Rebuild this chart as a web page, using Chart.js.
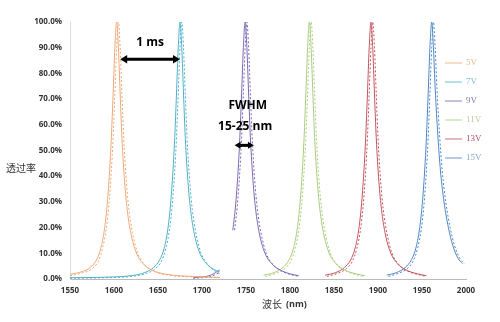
<!DOCTYPE html>
<html>
<head>
<meta charset="utf-8">
<script src="https://cdn.jsdelivr.net/npm/chart.js@4/dist/chart.umd.min.js"></script>
<style>
  html, body { margin: 0; padding: 0; background: #fff; }
  #wrap { position: relative; width: 500px; height: 322px; }
</style>
</head>
<body>
<div id="wrap"><canvas id="c" width="500" height="322"></canvas></div>
<script>
/* ───────── data (wavelength nm, transmission %) ───────── */

const voltages = ['5V', '7V', '9V', '11V', '13V', '15V'];

const v5Solid = [[1550,1.8],[1563,2.8],[1573,4.5],[1581,8],[1585,12],[1589,19],[1592,28],[1595,42],[1597,55],[1599,72],[1601,90],[1603,100],[1605,90],[1607,72],[1609,55],[1612,38],[1615,27],[1619,18],[1625,10.5],[1633,6],[1643,3.5],[1660,1.8],[1690,1],[1720,0.6]];
const v5Dot = [[1550,1.2],[1565,2.5],[1575,4],[1583,7.5],[1587,12],[1591,19],[1594,28],[1597,42],[1599,55],[1601,72],[1603,90],[1605,100],[1607,90],[1609,72],[1611,55],[1614,38],[1617,27],[1621,18],[1627,10],[1635,5.5],[1645,3],[1662,1.5],[1690,0.8],[1720,0.5]];

const v7Solid = [[1550,0.5],[1600,0.8],[1620,1.3],[1635,2.5],[1645,4.5],[1652,7.5],[1657,12],[1661,19],[1664,28],[1667,42],[1669,55],[1671,72],[1673,90],[1675,100],[1677,90],[1679,72],[1681,55],[1684,38],[1687,27],[1691,18],[1697,10.5],[1705,6],[1713,3.8],[1720,2.8]];
const v7Dot = [[1550,0.3],[1600,0.6],[1620,1],[1637,2.2],[1647,4],[1654,7],[1659,12],[1663,19],[1666,28],[1669,42],[1671,55],[1673,72],[1675,90],[1677,100],[1679,90],[1681,72],[1683,55],[1686,38],[1689,27],[1693,18],[1699,10],[1707,5.5],[1715,3],[1720,2.2]];

const v9Solid = [[1690,0.5],[1700,0.8],[1710,1.5],[1720,3.5],[1721,null],[1735,19],[1738,28],[1741,42],[1743,55],[1745,72],[1747,90],[1749,100],[1751,90],[1753,72],[1755,55],[1758,38],[1761,27],[1765,18],[1771,10.5],[1779,6],[1789,3.5],[1800,2],[1810,1.3]];
const v9Dot = [[1690,0.3],[1700,0.5],[1710,1],[1720,2.5],[1721,null],[1737,19],[1740,28],[1743,42],[1745,55],[1747,72],[1749,90],[1751,100],[1753,90],[1755,72],[1757,55],[1760,38],[1763,27],[1767,18],[1773,10],[1781,5.5],[1791,3],[1802,1.6],[1810,1]];

const v11Solid = [[1770,1.5],[1782,2.5],[1792,4.5],[1799,7.5],[1804,12],[1808,19],[1811,28],[1814,42],[1816,55],[1818,72],[1820,90],[1822,100],[1824,90],[1826,72],[1828,55],[1831,38],[1834,27],[1838,18],[1844,10.5],[1852,6],[1862,3.5],[1875,2],[1885,1.3]];
const v11Dot = [[1772,1],[1784,2.2],[1794,4],[1801,7],[1806,12],[1810,19],[1813,28],[1816,42],[1818,55],[1820,72],[1822,90],[1824,100],[1826,90],[1828,72],[1830,55],[1833,38],[1836,27],[1840,18],[1846,10],[1854,5.5],[1864,3],[1877,1.6],[1885,1]];

const v13Solid = [[1840,1.5],[1852,2.5],[1862,4.5],[1869,7.5],[1874,12],[1878,19],[1881,28],[1884,42],[1886,55],[1888,72],[1890,90],[1892,100],[1894,90],[1896,72],[1898,55],[1901,38],[1904,27],[1908,18],[1914,10.5],[1922,6],[1932,3.5],[1945,2],[1955,1.3]];
const v13Dot = [[1842,1],[1854,2.2],[1864,4],[1871,7],[1876,12],[1880,19],[1883,28],[1886,42],[1888,55],[1890,72],[1892,90],[1894,100],[1896,90],[1898,72],[1900,55],[1903,38],[1906,27],[1910,18],[1916,10],[1924,5.5],[1934,3],[1947,1.6],[1955,1]];

const v15Solid = [[1910,1.5],[1921,2.5],[1931,4.5],[1938,7.5],[1943,12],[1947,19],[1950,28],[1953,42],[1955,55],[1957,72],[1959,90],[1961,100],[1963,90],[1965,74],[1968,56],[1971,42],[1975,30],[1980,20],[1985,13],[1991,8],[1996,6]];
const v15Dot = [[1912,1],[1923,2.2],[1933,4],[1940,7],[1945,12],[1949,19],[1952,28],[1955,42],[1957,55],[1959,72],[1961,90],[1963,100],[1965,90],[1967,74],[1970,56],[1973,42],[1977,30],[1982,20],[1987,13],[1993,8],[1998,6]];

const solidSeries = [v5Solid, v7Solid, v9Solid, v11Solid, v13Solid, v15Solid];
const dotSeries = [v5Dot, v7Dot, v9Dot, v11Dot, v13Dot, v15Dot];

const xTicks = [1550, 1600, 1650, 1700, 1750, 1800, 1850, 1900, 1950, 2000];
const yTicks = [0, 10, 20, 30, 40, 50, 60, 70, 80, 90, 100];

const COLORS = ['#f0a878', '#4fb0c8', '#7a68b4', '#a9cc7c', '#c4545e', '#4f86c6'];
const LEGEND_TEXT = ['#e8b898', '#7fbcd0', '#8478b0', '#b8cc98', '#a85060', '#86a6c6'];

/* ───────── datasets ───────── */

const toPts = (arr) => arr.map(([x, y]) => ({ x, y }));

const datasets = [];
voltages.forEach((v, i) => {
  datasets.push({
    label: v, data: toPts(solidSeries[i]), borderColor: COLORS[i],
    borderWidth: 1, pointRadius: 0, tension: 0.4, cubicInterpolationMode: 'monotone', spanGaps: false,
  });
  datasets.push({
    label: v + ' fit', data: toPts(dotSeries[i]), borderColor: COLORS[i],
    borderWidth: 1, borderDash: [2, 2], pointRadius: 0, tension: 0.4, cubicInterpolationMode: 'monotone', spanGaps: false,
  });
});

/* ───────── overlay: legend, titles, arrows ───────── */

function arrow(ctx, x1, x2, y, w, head) {
  ctx.save();
  ctx.strokeStyle = '#000';
  ctx.fillStyle = '#000';
  ctx.lineWidth = w;
  ctx.beginPath();
  ctx.moveTo(x1 + head, y);
  ctx.lineTo(x2 - head, y);
  ctx.stroke();
  ctx.beginPath();
  ctx.moveTo(x1, y); ctx.lineTo(x1 + head + 1, y - head * 0.7); ctx.lineTo(x1 + head + 1, y + head * 0.7); ctx.closePath();
  ctx.fill();
  ctx.beginPath();
  ctx.moveTo(x2, y); ctx.lineTo(x2 - head - 1, y - head * 0.7); ctx.lineTo(x2 - head - 1, y + head * 0.7); ctx.closePath();
  ctx.fill();
  ctx.restore();
}

const overlay = {
  id: 'overlay',
  afterDraw(chart) {
    const { ctx, scales: { x, y } } = chart;
    ctx.save();

    // legend
    ctx.font = '9px "Liberation Serif", serif';
    ctx.textBaseline = 'middle';
    voltages.forEach((v, i) => {
      const ly = 63 + i * 19;
      ctx.strokeStyle = COLORS[i];
      ctx.globalAlpha = 0.7;
      ctx.lineWidth = 1.2;
      ctx.beginPath(); ctx.moveTo(445, ly); ctx.lineTo(462, ly); ctx.stroke();
      ctx.globalAlpha = 1;
      ctx.fillStyle = LEGEND_TEXT[i];
      ctx.textAlign = 'left';
      ctx.fillText(v, 466, ly);
    });

    // axis titles
    ctx.fillStyle = '#333';
    ctx.font = '10px "Noto Sans CJK SC", serif';
    ctx.textAlign = 'left';
    ctx.fillText('透过率', 6, 168);
    ctx.fillText('波长', 262, 304);
    ctx.font = 'bold 9px "Open Sans", sans-serif';
    ctx.fillText('(nm)', 286, 304);

    // 1 ms annotation
    ctx.fillStyle = '#000';
    ctx.font = 'bold 12px "Open Sans", sans-serif';
    ctx.textAlign = 'center';
    ctx.fillText('1 ms', x.getPixelForValue(1641), y.getPixelForValue(92));
    arrow(ctx, x.getPixelForValue(1607), x.getPixelForValue(1675), y.getPixelForValue(85.5), 3, 6);

    // FWHM annotation
    ctx.fillText('FWHM', x.getPixelForValue(1752), y.getPixelForValue(67.5));
    ctx.fillText('15-25 nm', x.getPixelForValue(1749), y.getPixelForValue(59.5));
    arrow(ctx, x.getPixelForValue(1737), x.getPixelForValue(1759), y.getPixelForValue(52), 3, 5);

    ctx.restore();
  },
};

/* ───────── chart ───────── */

const tickFont = { family: '"Open Sans", sans-serif', size: 8, weight: 'bold' };

new Chart(document.getElementById('c'), {
  type: 'line',
  data: { datasets },
  options: {
    responsive: false,
    animation: false,
    events: [],
    layout: { padding: { top: 22, right: 34, left: 0, bottom: 0 } },
    plugins: { legend: { display: false }, tooltip: { enabled: false } },
    scales: {
      x: {
        type: 'linear', min: 1550, max: 2000,
        afterBuildTicks: (s) => { s.ticks = xTicks.map((v) => ({ value: v })); },
        afterFit: (s) => { s.height = 43; },
        grid: { display: false, drawTicks: false },
        border: { color: '#bbb' },
        ticks: { color: '#333', font: tickFont, padding: 7, maxRotation: 0, callback: (v) => String(v) },
      },
      y: {
        min: 0, max: 100,
        afterBuildTicks: (s) => { s.ticks = yTicks.map((v) => ({ value: v })); },
        afterFit: (s) => { s.width = 70; },
        grid: { display: false, drawTicks: false },
        border: { color: '#ddd' },
        ticks: { color: '#333', font: tickFont, padding: 8, callback: (v) => v.toFixed(1) + '%' },
      },
    },
  },
  plugins: [overlay],
});
</script>
</body>
</html>
